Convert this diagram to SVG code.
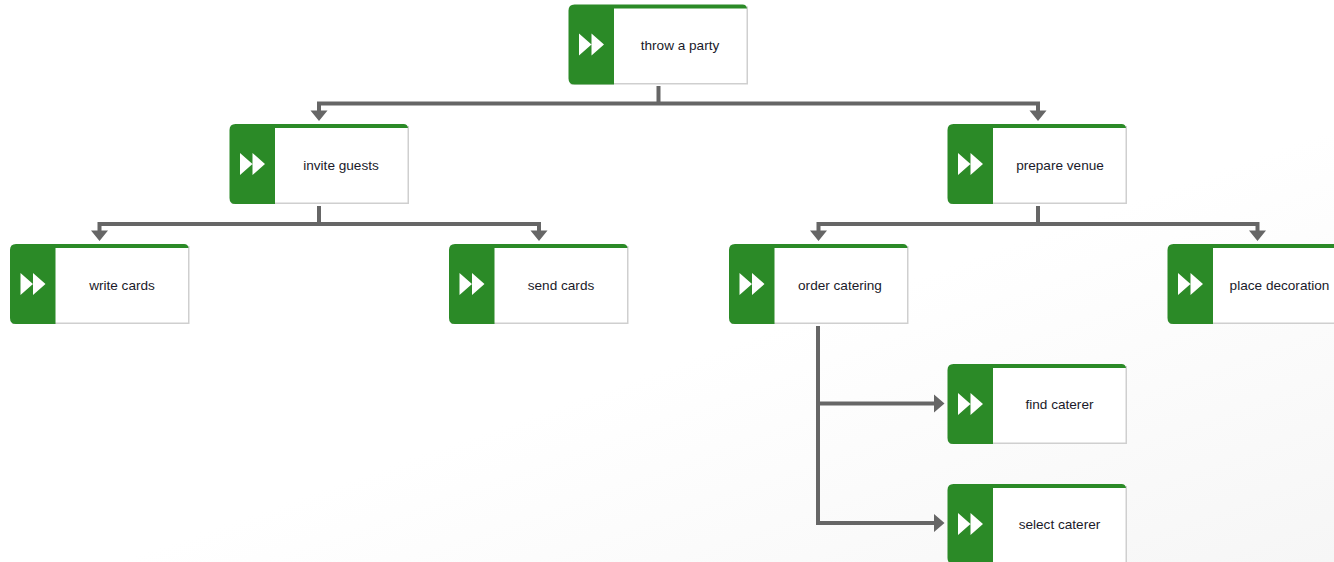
<svg xmlns="http://www.w3.org/2000/svg" width="1334" height="562" viewBox="0 0 1334 562">
<style>
.conn{fill:none;stroke:#666;stroke-width:4}
.head{fill:#666}
.lbl{font-family:"Liberation Sans",Arial,sans-serif;font-size:13.6px;fill:#1a1a2a;text-anchor:middle}
</style>
<defs>
<linearGradient id="bg" x1="0.62" y1="0.55" x2="1" y2="1"><stop offset="0" stop-color="#fff"/><stop offset="1" stop-color="#f6f6f6"/></linearGradient>
<g id="box">
<rect x="2" y="2" width="177.500" height="78" fill="#cfcfcf"/>
<rect x="1" y="1" width="177" height="77.500" fill="#fff"/>
<path d="M6 0H174Q178 0 178.500 4H45.500V80H6Q0 80 0 74V6Q0 0 6 0Z" fill="#2b8a27"/>
<path d="M10.500 29L23 40L10.500 51ZM23 29L35.500 40L23 51Z" fill="#fff"/>
</g>
</defs>
<rect width="1334" height="562" fill="url(#bg)"/>
<g id="connectors">
<path class="conn" d="M658.500 86V103.500H319V111M658.500 103.500H1038V111"/>
<path class="head" d="M310.500 110.500H327.500L319 121ZM1029.500 110.500H1046.500L1038 121Z"/>
<path class="conn" d="M319 206V224H99.500V231M319 224H539V231"/>
<path class="head" d="M91 230.500H108L99.500 241ZM530.500 230.500H547.500L539 241Z"/>
<path class="conn" d="M1038 206V224H818.500V231M1038 224H1257.500V231"/>
<path class="head" d="M810 230.500H827L818.500 241ZM1249 230.500H1266L1257.500 241Z"/>
<path class="conn" d="M818 326V523H935M818 403.500H935"/>
<path class="head" d="M934 394.500V412.500L944.500 403.500ZM934 514V532L944.500 523Z"/>
</g>
<g id="n-throw" transform="translate(568.500,4.500)"><use href="#box"/><text class="lbl" x="111.500" y="45.500">throw a party</text></g>
<g id="n-invite" transform="translate(229.500,124)"><use href="#box"/><text class="lbl" x="111.500" y="46">invite guests</text></g>
<g id="n-prepare" transform="translate(947.500,124)"><use href="#box"/><text class="lbl" x="112.500" y="46">prepare venue</text></g>
<g id="n-write" transform="translate(10,244)"><use href="#box"/><text class="lbl" x="112" y="45.500">write cards</text></g>
<g id="n-send" transform="translate(449,244)"><use href="#box"/><text class="lbl" x="112" y="45.500">send cards</text></g>
<g id="n-order" transform="translate(729,244)"><use href="#box"/><text class="lbl" x="111" y="45.500">order catering</text></g>
<g id="n-place" transform="translate(1167.500,244)"><use href="#box"/><text class="lbl" x="112" y="45.500">place decoration</text></g>
<g id="n-find" transform="translate(947.500,364)"><use href="#box"/><text class="lbl" x="112" y="45">find caterer</text></g>
<g id="n-select" transform="translate(947.500,484)"><use href="#box"/><text class="lbl" x="112" y="45">select caterer</text></g>
</svg>
